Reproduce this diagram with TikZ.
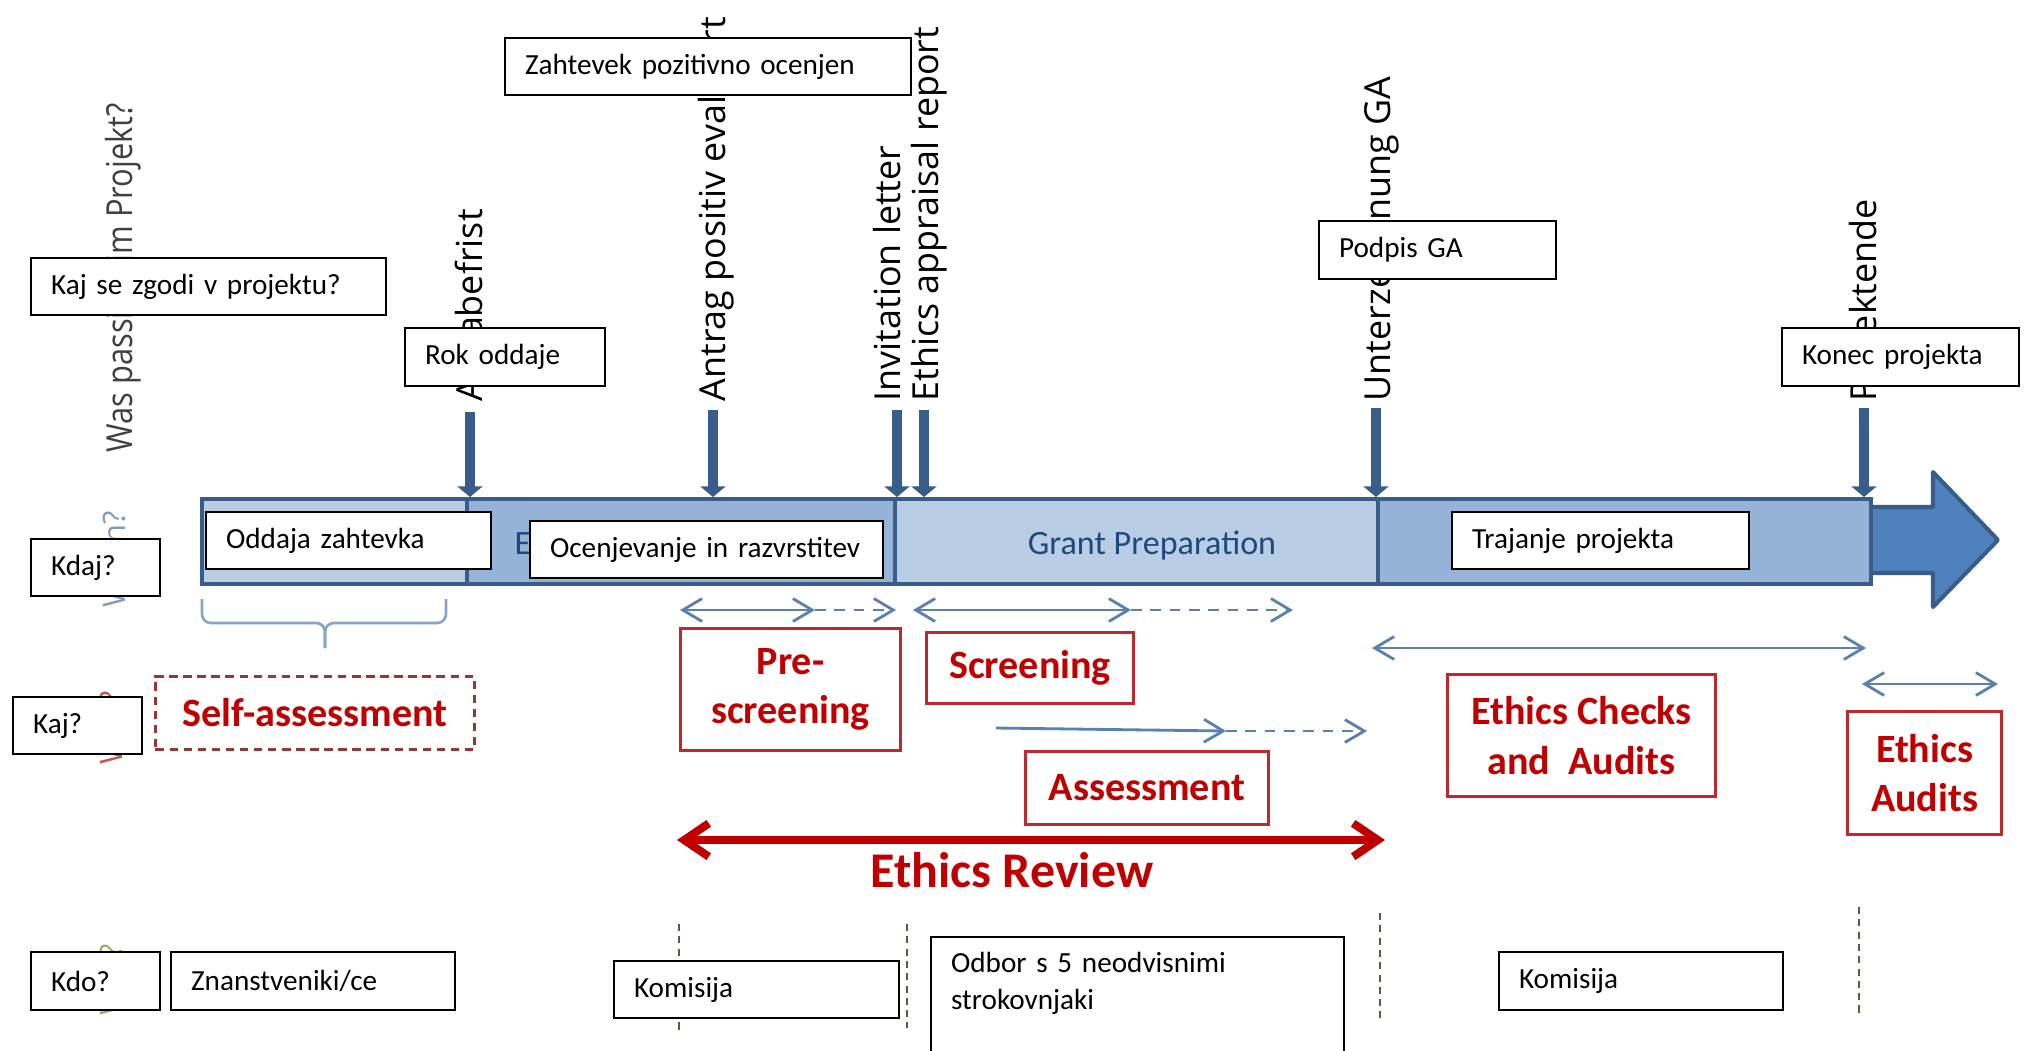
\documentclass[tikz,border=0pt]{standalone}
\usepackage{fontspec}
\usepackage{graphicx}
\usetikzlibrary{arrows.meta}
\newfontfamily\carl{Carlito}
\newfontfamily\osans{Open Sans}
\definecolor{barline}{HTML}{385D8A}
\definecolor{barlight}{HTML}{B9CDE5}
\definecolor{barmid}{HTML}{95B3D7}
\definecolor{barhead}{HTML}{4F81BD}
\definecolor{bartxt}{HTML}{1F497D}
\definecolor{thinblue}{HTML}{5A80AE}
\definecolor{redtxt}{HTML}{C00000}
\definecolor{redline}{HTML}{C0282D}
\definecolor{maroonc}{HTML}{953735}
\definecolor{olivec}{HTML}{5C5C3D}
\definecolor{bracec}{HTML}{86A3C8}
\definecolor{graylab}{HTML}{404040}
\definecolor{wannc}{HTML}{7F9CC0}
\definecolor{wasc}{HTML}{C8504D}
\definecolor{werc}{HTML}{9BAF6A}
\begin{document}
\begin{tikzpicture}[x=0.01cm, y=-0.01cm,
  wbox/.style={draw=black, line width=0.6pt, fill=white, font=\carl\fontsize{8.3pt}{10.5pt}\selectfont, text=black, align=left, anchor=north west, inner xsep=0.2cm, inner ysep=0pt},
  seg/.style={draw=barline, line width=1.15pt, anchor=north west, minimum height=0.85cm, inner sep=0},
  rbox/.style={draw=redline, line width=0.85pt, font=\carl\bfseries\fontsize{11.4pt}{14pt}\selectfont, text=redtxt, align=center, inner sep=0, anchor=north west},
  rlab/.style={rotate=90, anchor=base west, inner sep=0, font=\osans\fontsize{10.2pt}{12pt}\selectfont, text=black},
  qlab/.style={rotate=90, anchor=base west, inner sep=0, font=\osans\fontsize{8.8pt}{10pt}\selectfont},
  darr/.style={draw=barline, line width=2.85pt, -{Triangle[length=3pt,width=7pt]}},
  tline/.style={draw=thinblue, line width=0.8pt},
  barbs/.style={tline, {Straight Barb[length=5.5pt,width=6.5pt]}-{Straight Barb[length=5.5pt,width=6.5pt]}},
  barbe/.style={tline, -{Straight Barb[length=5.5pt,width=6.5pt]}},
  dsh/.style={tline, dash pattern=on 3pt off 2.5pt, -{Straight Barb[length=5.5pt,width=6.5pt]}},
  vdash/.style={draw=olivec, line width=0.6pt, dash pattern=on 2pt off 1.5pt},
  redarr/.style={draw=redtxt, line width=2.3pt, {Straight Barb[length=7pt,width=9.5pt]}-{Straight Barb[length=7pt,width=9.5pt]}},
  bartext/.style={font=\carl\fontsize{9.7pt}{11pt}\selectfont, text=bartxt, inner sep=0}
]
\useasboundingbox (0,0) rectangle (2026,1050);

% ---------- timeline bar ----------
\draw[fill=barhead, draw=barline, line width=1.15pt, line join=round]
  (1860,507) -- (1933,507) -- (1933,472) -- (1998,540) -- (1933,607) -- (1933,573) -- (1860,573) -- cycle;
\node[seg, fill=barlight, minimum width=2.65cm] (s1) at (200,497) {};
\node[seg, fill=barmid, minimum width=4.28cm] (s2) at (465,497) {};
\node[seg, fill=barlight, minimum width=4.83cm] (s3) at (893,497) {};
\node[seg, fill=barmid, minimum width=4.93cm] (s4) at (1376,497) {};
\node[bartext, anchor=base west] (etxt) at (514,554) {E};
\node[bartext, anchor=base] (gp) at (1152,554) {Grant Preparation};

% ---------- milestone labels ----------
\node[rlab, text=graylab] (lwas) at (133,453) {\scalebox{0.86}[1]{Was passiert im Projekt?}};
\node[rlab] (labg) at (482,402) {Abgabefrist};
\node[rlab] (lant) at (725,402) {Antrag positiv evaluiert};
\node[rlab] (linv) at (900,402) {Invitation letter};
\node[rlab] (leth) at (938,402) {Ethics appraisal report};
\node[rlab] (lunt) at (1390,402) {Unterzeichnung GA};
\node[rlab] (lpro) at (1876,402) {Projektende};

\coordinate (a1) at (470,412);
\coordinate (a2) at (713,410);
\coordinate (a3) at (897,410);
\coordinate (a4) at (924,410);
\coordinate (a5) at (1376,408);
\coordinate (a6) at (1864,408);
\draw[darr] (a1) -- (a1 |- s1.north);
\draw[darr] (a2) -- (a2 |- s2.north);
\draw[darr] (a3) -- (a3 |- s2.north);
\draw[darr] (a4) -- (a4 |- s3.north);
\draw[darr] (a5) -- (a5 |- s4.north);
\draw[darr] (a6) -- (a6 |- s4.north);

% ---------- left column questions ----------
\node[qlab, text=wannc] (qwann) at (125,608) {Wann?};
\node[qlab, text=wasc] (qwas) at (123,765) {Was?};
\node[qlab, text=werc] (qwer) at (123,1016) {Wer?};

% ---------- brace ----------
\draw[draw=bracec, line width=0.75pt, rounded corners=2.5pt] (202,599) -- (202,623) -- (325,623) -- (325,648);
\draw[draw=bracec, line width=0.75pt, rounded corners=2.5pt] (446,599) -- (446,623) -- (325,623) -- (325,648);

% ---------- thin blue arrows ----------
\coordinate (p1) at (680,610); \coordinate (p2) at (815,610); \coordinate (p3) at (896,610);
\draw[barbs] (p1) -- (p2); \draw[dsh] (p2) -- (p3);
\coordinate (q1) at (913,610); \coordinate (q2) at (1131,610); \coordinate (q3) at (1293,610);
\draw[barbs] (q1) -- (q2); \draw[dsh] (q2) -- (q3);
\coordinate (r1) at (996,728); \coordinate (r2) at (1226,731); \coordinate (r3) at (1367,731);
\draw[barbe] (r1) -- (r2); \draw[dsh] (r2) -- (r3);
\coordinate (c1) at (1372,648); \coordinate (c2) at (1866,648);
\draw[barbs] (c1) -- (c2);
\coordinate (d1) at (1862,684); \coordinate (d2) at (1998,684);
\draw[barbs] (d1) -- (d2);

% ---------- red boxes ----------
\node[rbox, draw=maroonc, dash pattern=on 2.4pt off 1.6pt, minimum width=3.19cm, minimum height=0.73cm] (self) at (154,675) {Self-assessment};
\node[rbox, minimum width=2.2cm, minimum height=1.22cm] (pre) at (679,627) {Pre-\\screening};
\node[rbox, minimum width=2.07cm, minimum height=0.71cm] (scr) at (925,631) {Screening};
\node[rbox, minimum width=2.43cm, minimum height=0.73cm] (ass) at (1024,750) {Assessment};
\node[rbox, minimum width=2.68cm, minimum height=1.22cm] (eca) at (1446,673) {Ethics Checks\\and\ \ Audits};
\node[rbox, minimum width=1.54cm, minimum height=1.23cm] (eau) at (1846,710) {Ethics\\Audits};

% ---------- ethics review ----------
\coordinate (erl) at (677,840); \coordinate (err) at (1385,840);
\draw[redarr] (erl) -- (err);
\node[font=\carl\bfseries\fontsize{14.2pt}{16pt}\selectfont, text=redtxt, anchor=base, inner sep=0] (er) at (1012,887) {Ethics Review};

% ---------- dashed separators ----------
\coordinate (v1a) at (679,924); \coordinate (v1b) at (679,1030);
\coordinate (v2a) at (907,924); \coordinate (v2b) at (907,1028);
\coordinate (v3a) at (1380,913); \coordinate (v3b) at (1380,1018);
\coordinate (v4a) at (1859,907); \coordinate (v4b) at (1859,1013);
\draw[vdash] (v1a) -- (v1b);
\draw[vdash] (v2a) -- (v2b);
\draw[vdash] (v3a) -- (v3b);
\draw[vdash] (v4a) -- (v4b);

% ---------- white overlay boxes ----------
\node[wbox, text width=3.15cm, minimum height=0.57cm] (kajse) at (30,257) {\mbox{Kaj se zgodi v projektu?}};
\node[wbox, text width=1.60cm, minimum height=0.58cm] (rok) at (404,327) {\mbox{Rok oddaje}};
\node[wbox, text width=3.66cm, minimum height=0.57cm] (zaht) at (504,37) {\mbox{Zahtevek pozitivno ocenjen}};
\node[wbox, text width=1.97cm, minimum height=0.58cm] (podpis) at (1318,220) {\mbox{Podpis GA}};
\node[wbox, text width=1.97cm, minimum height=0.58cm] (konec) at (1781,327) {\mbox{Konec projekta}};
\node[wbox, text width=0.89cm, minimum height=0.57cm] (kdaj) at (30,538) {\mbox{Kdaj?}};
\node[wbox, text width=2.45cm, minimum height=0.57cm] (oddaja) at (205,511) {\mbox{Oddaja zahtevka}};
\node[wbox, text width=3.13cm, minimum height=0.57cm] (ocen) at (529,520) {\mbox{Ocenjevanje in razvrstitev}};
\node[wbox, text width=2.57cm, minimum height=0.57cm] (traj) at (1451,511) {\mbox{Trajanje projekta}};
\node[wbox, text width=0.89cm, minimum height=0.57cm] (kaj) at (12,696) {\mbox{Kaj?}};
\node[wbox, text width=0.89cm, minimum height=0.58cm] (kdo) at (30,951) {\mbox{Kdo?}};
\node[wbox, text width=2.44cm, minimum height=0.58cm] (znan) at (170,951) {\mbox{Znanstveniki/ce}};
\node[wbox, text width=2.45cm, minimum height=0.57cm] (kom1) at (613,960) {\mbox{Komisija}};
\node[wbox, text width=3.73cm, inner ysep=0.15cm, text depth=1.3cm] (odbor) at (930,936) {\mbox{Odbor s 5 neodvisnimi}\\\mbox{strokovnjaki}};
\node[wbox, text width=2.44cm, minimum height=0.58cm] (kom2) at (1498,951) {\mbox{Komisija}};
\end{tikzpicture}
\end{document}
